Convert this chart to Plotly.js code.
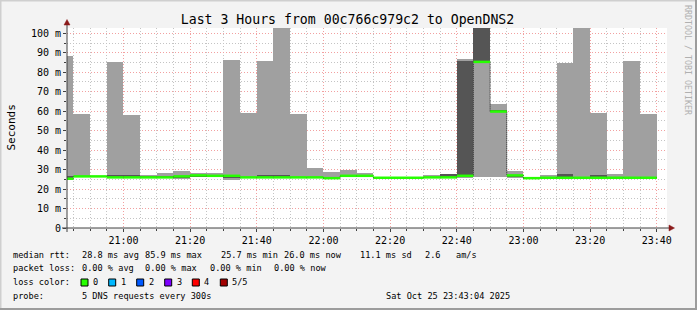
<!DOCTYPE html>
<html><head><meta charset="utf-8">
<script src="https://cdn.plot.ly/plotly-3.0.1.min.js"></script>
<style>html,body{margin:0;padding:0;background:#f3f3f3;}#chart{width:697px;height:310px;}</style>
</head><body><div id="chart"></div>
<script>
// ---- data (bin end timestamps, RRD style: each value covers the 5 minutes before it) ----
const day = '2025-10-25';
const binEnd = ['20:45','20:50','20:55','21:00','21:05','21:10','21:15','21:20','21:25','21:30','21:35','21:40','21:45','21:50','21:55','22:00','22:05','22:10','22:15','22:20','22:25','22:30','22:35','22:40','22:45','22:50','22:55','23:00','23:05','23:10','23:15','23:20','23:25','23:30','23:35','23:40'];
const rttMin   = [25.0,26.2,26.3,25.8,25.8,25.8,25.8,25.3,26.0,26.0,24.8,25.8,25.8,25.8,25.8,25.8,25.0,26.0,26.2,25.3,25.5,25.5,25.7,25.8,25.8,26.0,26.0,25.8,25.2,25.6,25.6,25.6,25.6,25.6,25.6,25.6];
const rttMax   = [88.5,58.6,26.8,85.3,58.1,27.3,28.4,29.4,28.3,28.4,86.3,59.3,85.8,112.0,58.6,30.9,28.6,29.9,28.3,26.2,26.0,26.0,27.0,27.5,87.0,115.0,63.7,29.4,26.0,27.0,84.8,112.0,59.3,27.5,85.8,58.6];
const innerLo  = [25.3,26.3,26.4,26.4,26.4,26.1,26.0,25.5,26.3,26.2,25.8,25.9,26.2,26.2,25.9,25.9,25.3,26.3,26.4,25.5,25.6,25.6,25.8,26.2,26.0,85.3,59.8,26.0,25.4,25.7,26.0,25.7,25.9,25.7,25.7,25.7];
const innerHi  = [26.5,26.8,26.6,27.3,27.3,26.6,26.5,26.6,27.2,27.0,27.0,26.3,27.0,27.0,26.3,26.3,26.0,27.0,27.0,26.0,25.9,25.9,26.3,27.5,86.0,115.0,60.5,27.0,25.8,26.0,27.5,26.0,27.0,26.0,26.0,26.0];
const medianRtt= [25.3,26.5,26.5,26.0,26.0,26.0,26.0,26.5,27.0,26.8,26.8,26.0,26.0,26.0,26.0,26.0,25.6,26.8,26.8,25.8,25.8,25.8,26.0,26.0,26.8,85.3,59.8,27.0,25.6,25.8,25.8,25.8,25.8,25.8,25.8,25.8];
const yTickVals = [0,10,20,30,40,50,60,70,80,90,100];
const yTickText = ['0','10 m','20 m','30 m','40 m','50 m','60 m','70 m','80 m','90 m','100 m'];
const lossLabels = ['0','1','2','3','4','5/5'];
const lossColors = ['#26ff00','#00b8ff','#0059ff','#7e00ff','#ff0000','#a10000'];

// ---- helpers ----
const STEP = 300000;
const endMs = binEnd.map(t => new Date(day + 'T' + t + ':00Z').getTime());
const iso = ms => new Date(ms).toISOString().replace('T',' ').replace('Z','');
const centers = endMs.map(m => iso(m - STEP/2));
const FONT = 'DejaVu Sans Mono';

const outer = {type:'bar', x:centers, base:rttMin, y:rttMax.map((v,i)=>v-rttMin[i]),
  width:endMs.map(()=>STEP), marker:{color:'#a0a0a0', line:{width:0}}, hoverinfo:'skip'};
const inner = {type:'bar', x:centers, base:innerLo, y:innerHi.map((v,i)=>v-innerLo[i]),
  width:endMs.map(()=>STEP), marker:{color:'#555555', line:{width:0}}, hoverinfo:'skip'};

// step line for median (dotted dark connector)
const stepX = [], stepY = [];
endMs.forEach((m,i)=>{ stepX.push(iso(m-STEP)); stepY.push(medianRtt[i]); });
stepX.push(iso(endMs[endMs.length-1])); stepY.push(medianRtt[medianRtt.length-1]);
const stepLine = {type:'scatter', mode:'lines', x:stepX, y:stepY, line:{shape:'hv', color:'#202020', width:1, dash:'1px,1px'}, hoverinfo:'skip'};

// green horizontal segments for median
const segX = [], segY = [];
endMs.forEach((m,i)=>{ segX.push(iso(m-STEP), iso(m), null); segY.push(medianRtt[i], medianRtt[i], null); });
const medLine = {type:'scatter', mode:'lines', x:segX, y:segY, line:{color:lossColors[0], width:2.5}, connectgaps:false, hoverinfo:'skip'};

// ---- layout geometry helpers (pixel -> paper) ----
const L = 67, T = 28, W = 600, H = 200;
const px = x => (x - L) / W;
const py = y => (T + H - y) / H;

const ann = [];
const LF = 8.6;
function txt(x, y, s, opt) {
  ann.push(Object.assign({xref:'paper', yref:'paper', x:px(x), y:py(y), text:s, showarrow:false, borderpad:0,
    xanchor:'left', yanchor:'middle', font:{family:FONT, size:LF, color:'#000'}}, opt||{}));
}
// legend rows
txt(12,254.7,'median rtt:'); txt(80.7,254.7,'28.8 ms avg'); txt(144.3,254.7,'85.9 ms max');
txt(220,254.7,'25.7 ms min'); txt(282.7,254.7,'26.0 ms now'); txt(359.3,254.7,'11.1 ms sd');
txt(423.7,254.7,'2.6'); txt(455.3,254.7,'am/s');
txt(12,268.3,'packet loss:'); txt(80.7,268.3,'0.00 % avg'); txt(144.3,268.3,'0.00 % max');
txt(209.3,268.3,'0.00 % min'); txt(273.3,268.3,'0.00 % now');
txt(12,282.3,'loss color:');
txt(12,296.3,'probe:'); txt(80.7,296.3,'5 DNS requests every 300s');
txt(510.5,296.3,'Sat Oct 25 23:43:04 2025', {xanchor:'right'});
// y-axis title
txt(11,127.5,'Seconds', {xanchor:'center', textangle:-90, font:{family:FONT, size:11, color:'#000'}});
// watermark
txt(688,60,'RRDTOOL / TOBI OETIKER', {xanchor:'center', textangle:90, font:{family:FONT, size:8.3, color:'#b0b0b0'}});

const shapes = [];
const boxX = [81,108.7,136.7,164.7,192.3,220.3];
lossLabels.forEach((lab,i)=>{
  shapes.push({type:'rect', xref:'paper', yref:'paper', x0:px(boxX[i]), x1:px(boxX[i]+7), y0:py(286), y1:py(279),
    fillcolor:lossColors[i], line:{color:'#000', width:1}});
  txt(boxX[i]+11, 282.3, lab);
});
// axis lines extending beyond plot + arrows
shapes.push({type:'line', xref:'paper', yref:'paper', x0:px(67), x1:px(67), y0:py(232), y1:py(23), line:{color:'#404040', width:1}});
shapes.push({type:'line', xref:'paper', yref:'paper', x0:px(62), x1:px(671), y0:py(228), y1:py(228), line:{color:'#404040', width:1}});
shapes.push({type:'path', xref:'paper', yref:'paper', path:`M ${px(64)} ${py(25)} L ${px(70)} ${py(25)} L ${px(67)} ${py(19.5)} Z`, fillcolor:'#8b1a1a', line:{color:'#8b1a1a', width:0.5}});
shapes.push({type:'path', xref:'paper', yref:'paper', path:`M ${px(669)} ${py(225)} L ${px(669)} ${py(231)} L ${px(674.5)} ${py(228)} Z`, fillcolor:'#8b1a1a', line:{color:'#8b1a1a', width:0.5}});
// frame
shapes.push({type:'line', xref:'paper', yref:'paper', x0:px(0), x1:px(697), y0:py(0.5), y1:py(0.5), line:{color:'#cfcfcf', width:2}});
shapes.push({type:'line', xref:'paper', yref:'paper', x0:px(0.5), x1:px(0.5), y0:py(0), y1:py(310), line:{color:'#cfcfcf', width:2}});
shapes.push({type:'line', xref:'paper', yref:'paper', x0:px(0), x1:px(697), y0:py(309), y1:py(309), line:{color:'#9c9c9c', width:2}});
shapes.push({type:'line', xref:'paper', yref:'paper', x0:px(696), x1:px(696), y0:py(0), y1:py(310), line:{color:'#9c9c9c', width:2}});

const RED = '#f2a0a0', GRAY = '#c4c4c4', DASH = '1px,2px';
const layout = {
  width:697, height:310, margin:{l:L, r:697-L-W, t:T, b:310-T-H},
  paper_bgcolor:'#f3f3f3', plot_bgcolor:'#ffffff', showlegend:false, barmode:'overlay', bargap:0,
  title:{text:'Last 3 Hours from 00c766c979c2 to OpenDNS2', font:{family:FONT, size:13.2, color:'#000'},
    xref:'container', x:0.4986, xanchor:'center', yref:'container', y:1-19/310, yanchor:'middle'},
  xaxis:{type:'date', range:[day+' 20:43:04', day+' 23:43:04'], tick0:day+' 21:00', dtick:1200000,
    tickformat:'%H:%M', ticks:'outside', ticklen:3, tickcolor:'#404040', showline:false, zeroline:false,
    showgrid:true, gridcolor:RED, griddash:DASH, gridwidth:1,
    tickfont:{family:FONT, size:10, color:'#000'},
    minor:{tick0:day+' 20:45', dtick:300000, showgrid:true, gridcolor:GRAY, griddash:DASH, ticks:'outside', ticklen:2, tickcolor:'#404040'},
    fixedrange:true},
  yaxis:{range:[0,102.7], tickvals:yTickVals, ticktext:yTickText, ticks:'outside', ticklen:3, tickcolor:'#404040',
    showline:false, zeroline:false, showgrid:true, gridcolor:RED, griddash:DASH, gridwidth:1,
    tickfont:{family:FONT, size:10, color:'#000'},
    minor:{dtick:5, showgrid:true, gridcolor:GRAY, griddash:DASH, ticks:'outside', ticklen:2, tickcolor:'#404040'},
    fixedrange:true},
  annotations:ann, shapes:shapes
};
Plotly.newPlot('chart', [outer, inner, stepLine, medLine], layout, {staticPlot:true, displayModeBar:false});
</script></body></html>
